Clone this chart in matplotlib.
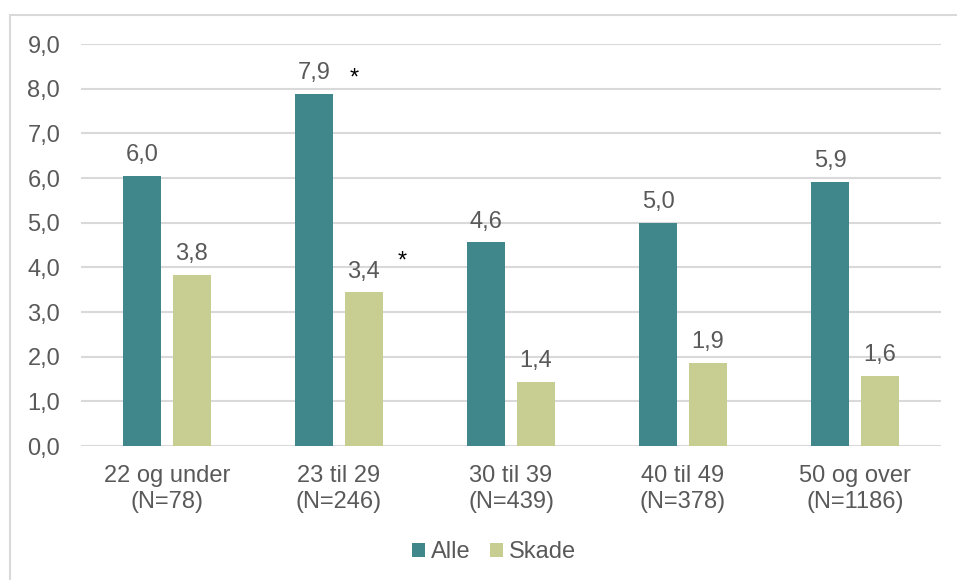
import numpy as np
import matplotlib.pyplot as plt
from matplotlib.patches import Rectangle

plt.rcParams['font.family'] = ['Liberation Sans', 'DejaVu Sans']

# Age groups and shares per series
groups = ['22 og under\n(N=78)', '23 til 29\n(N=246)', '30 til 39\n(N=439)',
          '40 til 49\n(N=378)', '50 og over\n(N=1186)']
alle = [6.04, 7.89, 4.56, 5.0, 5.92]
skade = [3.83, 3.44, 1.43, 1.86, 1.57]
# groups marked with a significance star, per series
star_alle = [False, True, False, False, False]
star_skade = [False, True, False, False, False]

yticks = np.arange(0, 10, 1.0)

teal = '#40878B'
green = '#C8CE91'
txt = '#595959'
fs = 17

fig = plt.figure(figsize=(9.57, 5.80), dpi=100)
ax = fig.add_axes([81 / 957, 1 - 446 / 580, 860 / 957, 402 / 580])

# light frame around the whole chart
fig.patches.append(Rectangle((10 / 957, -0.1), 1.0, 1 - 15 / 580 + 0.1,
                             transform=fig.transFigure, fill=False,
                             edgecolor='#D9D9D9', linewidth=1.5))

x = np.arange(len(groups))
w = 0.22
off = 0.143
b1 = ax.bar(x - off, alle, w, color=teal, label='Alle', zorder=3)
b2 = ax.bar(x + off, skade, w, color=green, label='Skade', zorder=3)

# star offsets (points) for each series
star_off = {0: (29, 3), 1: (28, 14)}
for k, (bars, vals, stars) in enumerate(((b1, alle, star_alle),
                                         (b2, skade, star_skade))):
    for rect, v, s in zip(bars, vals, stars):
        cx = rect.get_x() + rect.get_width() / 2
        ax.annotate(f'{v:.1f}'.replace('.', ','), (cx, v), xytext=(0, 7),
                    textcoords='offset points', ha='center', va='bottom',
                    fontsize=fs, color=txt)
        if s:
            ax.annotate('*', (cx, v), xytext=star_off[k],
                        textcoords='offset points', ha='center', va='bottom',
                        fontsize=fs, color='black')

ax.set_xlim(-0.5, len(groups) - 0.5)
ax.set_ylim(0, 9)
ax.set_yticks(yticks)
ax.set_yticklabels([f'{t:.1f}'.replace('.', ',') for t in yticks])
ax.set_xticks(x)
ax.set_xticklabels(groups)
ax.tick_params(axis='both', length=0, labelsize=fs, labelcolor=txt)
ax.tick_params(axis='y', pad=15)
ax.tick_params(axis='x', pad=14)
ax.grid(axis='y', color='#D9D9D9', linewidth=1.5, zorder=0)
for sp in ax.spines.values():
    sp.set_visible(False)

leg = fig.legend(loc='center', bbox_to_anchor=(494 / 957, 1 - 552 / 580),
                 ncol=2, frameon=False, fontsize=fs, handlelength=0.55,
                 handleheight=0.55, handletextpad=0.25, columnspacing=0.85)
for t in leg.get_texts():
    t.set_color(txt)

fig.savefig('out.png', dpi=100)
